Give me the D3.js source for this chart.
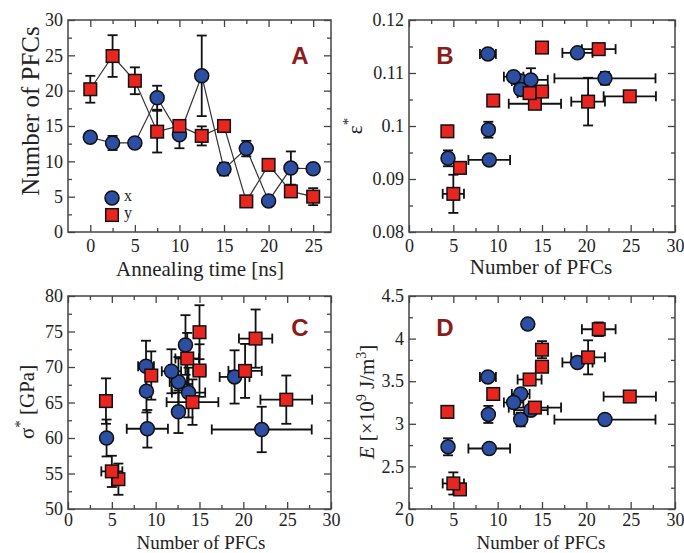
<!DOCTYPE html>
<html>
<head>
<meta charset="utf-8" />
<title>PFCs and mechanical properties</title>
<script src="https://d3js.org/d3.v7.min.js"></script>
<style>
  body { margin: 0; background: #fff; }
  svg { display: block; }
  .tick text { font-family: "Liberation Serif", "Times New Roman", serif; font-size: 18px; fill: #222; }
  .tick line { stroke: #444; stroke-width: 1.3; }
  .frame { fill: none; stroke: #444; stroke-width: 1.5; }
  .title { font-family: "Liberation Serif", "Times New Roman", serif; font-size: 21px; fill: #222; }
  .letter { font-family: "Liberation Sans", Arial, sans-serif; font-weight: bold; font-size: 24px; fill: #8c1b1b; }
  .legend { font-family: "Liberation Serif", serif; font-size: 16px; fill: #222; }
</style>
</head>
<body>
<svg id="chart" width="684" height="553"></svg>
<script>
// annealing times (panel A x axis)
var times = [0, 2.5, 5, 7.5, 10, 12.5, 15, 17.5, 20, 22.5, 25];

// number of PFCs, series x (blue) and y (red)
var pfcX    = [13.4, 12.6, 12.6, 19.0, 13.75, 22.1, 8.9, 11.8, 4.4, 9.05, 8.95];
var pfcXErr = [0.3, 1.0, 0.3, 1.7, 1.9, 5.7, 0.9, 1.1, 0.3, 2.35, 0.3];
var pfcY    = [20.2, 24.9, 21.4, 14.2, 15.0, 13.6, 15.0, 4.33, 9.5, 5.75, 5.0];
var pfcYErr = [1.9, 2.95, 1.9, 2.95, 0.7, 1.35, 0.5, 0.3, 0.4, 0.6, 1.2];

// critical strain (panel B)
var strainX    = [0.1068, 0.1085, 0.1069, 0.1138, 0.1087, 0.1090, 0.1136, 0.1093, 0.0939, 0.0936, 0.0993];
var strainXErr = [0.0008, 0.001, 0.0008, 0.0005, 0.0022, 0.0012, 0.0006, 0.0008, 0.0015, 0.0005, 0.0015];
var strainY    = [0.1046, 0.1056, 0.1145, 0.1042, 0.1065, 0.1062, 0.1148, 0.0990, 0.1048, 0.0921, 0.0872];
var strainYErr = [0.0045, 0.0005, 0.0006, 0.0005, 0.0006, 0.0006, 0.0008, 0.0006, 0.0005, 0.0005, 0.0036];

// critical stress [GPa] (panel C)
var stressX    = [73.1, 67.9, 63.7, 68.6, 66.4, 61.2, 70.1, 69.4, 60.0, 61.3, 66.6];
var stressXErr = [4.2, 3.5, 3.0, 3.75, 3.5, 3.2, 3.6, 3.1, 2.6, 2.65, 3.0];
var stressY    = [69.45, 65.4, 74.0, 65.05, 69.5, 71.2, 74.9, 65.2, 68.8, 54.2, 55.3];
var stressYErr = [3.8, 3.4, 4.1, 3.2, 3.7, 3.6, 3.8, 3.2, 3.4, 2.2, 2.2];

// energy [x10^9 J/m^3] (panel D)
var energyX    = [4.17, 3.35, 3.05, 3.72, 3.16, 3.05, 3.55, 3.25, 2.73, 2.71, 3.11];
var energyXErr = [0.03, 0.05, 0.08, 0.04, 0.05, 0.04, 0.05, 0.05, 0.1, 0.04, 0.1];
var energyY    = [3.78, 3.32, 4.11, 3.19, 3.67, 3.52, 3.87, 3.14, 3.35, 2.23, 2.30];
var energyYErr = [0.2, 0.04, 0.08, 0.04, 0.05, 0.04, 0.1, 0.05, 0.05, 0.04, 0.13];

var blue = "#2c4fa3", red = "#e8261f";
var svg = d3.select("#chart");

function steps(a, b, s) {
  return d3.range(0, Math.round((b - a) / s) + 1).map(function (i) { return +(a + i * s).toFixed(4); });
}

// frame, inward ticks on four sides
function panel(box, xDom, yDom, xMaj, xMin, yMaj, yMin, yFmt, xPad) {
  var w = box.right - box.left, h = box.bottom - box.top;
  var g = svg.append("g").attr("transform", "translate(" + box.left + "," + box.top + ")");
  var x = d3.scaleLinear().domain(xDom).range([0, w]);
  var y = d3.scaleLinear().domain(yDom).range([h, 0]);

  g.append("g").attr("transform", "translate(0," + h + ")")
    .call(d3.axisBottom(x).tickValues(xMaj).tickSize(-7).tickPadding(xPad).tickFormat(d3.format("~g")));
  g.append("g").attr("transform", "translate(0," + h + ")")
    .call(d3.axisBottom(x).tickValues(xMin).tickSize(-4).tickFormat(""));
  g.append("g").call(d3.axisTop(x).tickValues(xMaj).tickSize(-7).tickFormat(""));
  g.append("g").call(d3.axisTop(x).tickValues(xMin).tickSize(-4).tickFormat(""));
  g.append("g").call(d3.axisLeft(y).tickValues(yMaj).tickSize(-7).tickPadding(5).tickFormat(yFmt));
  g.append("g").call(d3.axisLeft(y).tickValues(yMin).tickSize(-4).tickFormat(""));
  g.append("g").attr("transform", "translate(" + w + ",0)")
    .call(d3.axisRight(y).tickValues(yMaj).tickSize(-7).tickFormat(""));
  g.append("g").attr("transform", "translate(" + w + ",0)")
    .call(d3.axisRight(y).tickValues(yMin).tickSize(-4).tickFormat(""));
  g.selectAll(".domain").remove();
  g.append("rect").attr("class", "frame").attr("width", w).attr("height", h);
  return { g: g, x: x, y: y };
}

function errBars(p, pts) {
  var eg = p.g.append("g").attr("stroke", "#111").attr("stroke-width", 1.8);
  pts.forEach(function (d) {
    var cx = p.x(d.x), cy = p.y(d.y);
    if (d.ey) {
      var y0 = p.y(d.y - d.ey), y1 = p.y(d.y + d.ey);
      eg.append("line").attr("x1", cx).attr("x2", cx).attr("y1", y0).attr("y2", y1);
      eg.append("line").attr("x1", cx - 5).attr("x2", cx + 5).attr("y1", y0).attr("y2", y0);
      eg.append("line").attr("x1", cx - 5).attr("x2", cx + 5).attr("y1", y1).attr("y2", y1);
    }
    if (d.ex) {
      var x0 = p.x(d.x - d.ex), x1 = p.x(d.x + d.ex);
      eg.append("line").attr("y1", cy).attr("y2", cy).attr("x1", x0).attr("x2", x1);
      eg.append("line").attr("y1", cy - 5).attr("y2", cy + 5).attr("x1", x0).attr("x2", x0);
      eg.append("line").attr("y1", cy - 5).attr("y2", cy + 5).attr("x1", x1).attr("x2", x1);
    }
  });
}

function circles(p, pts) {
  p.g.append("g").selectAll("circle").data(pts).join("circle")
    .attr("cx", function (d) { return p.x(d.x); })
    .attr("cy", function (d) { return p.y(d.y); })
    .attr("r", 7).attr("fill", blue).attr("stroke", "#111").attr("stroke-width", 1.5);
}

function squares(p, pts) {
  p.g.append("g").selectAll("rect").data(pts).join("rect")
    .attr("x", function (d) { return p.x(d.x) - 6.3; })
    .attr("y", function (d) { return p.y(d.y) - 6.3; })
    .attr("width", 12.6).attr("height", 12.6)
    .attr("fill", red).attr("stroke", "#111").attr("stroke-width", 1.5);
}

function pts(xs, exs, ys, eys) {
  return xs.map(function (v, i) { return { x: v, ex: exs ? exs[i] : 0, y: ys[i], ey: eys[i] }; });
}

function letter(p, txt, xv, yv) {
  p.g.append("text").attr("class", "letter").attr("x", xv).attr("y", yv)
    .attr("text-anchor", "middle").text(txt);
}

function ytitle(cx, cy) {
  return svg.append("text").attr("class", "title").attr("text-anchor", "middle")
    .attr("transform", "translate(" + cx + "," + cy + ") rotate(-90)");
}

var xMaj = steps(0, 30, 5), xMin = steps(2.5, 27.5, 5);

// ---------- A ----------
var pA = panel({ left: 68, right: 331, top: 20, bottom: 232 }, [-2.5, 27], [0, 30],
  steps(0, 25, 5), steps(2.5, 22.5, 5), steps(0, 30, 5), steps(2.5, 27.5, 5), d3.format("~g"), 7);
var aX = pts(times, null, pfcX, pfcXErr), aY = pts(times, null, pfcY, pfcYErr);
var line = d3.line().x(function (d) { return pA.x(d.x); }).y(function (d) { return pA.y(d.y); });
pA.g.append("path").datum(aX).attr("d", line).attr("fill", "none").attr("stroke", "#333").attr("stroke-width", 1.2);
pA.g.append("path").datum(aY).attr("d", line).attr("fill", "none").attr("stroke", "#333").attr("stroke-width", 1.2);
errBars(pA, aX); errBars(pA, aY);
circles(pA, aX); squares(pA, aY);
letter(pA, "A", 232, 44);
// legend
pA.g.append("circle").attr("cx", 44).attr("cy", 178).attr("r", 7).attr("fill", blue).attr("stroke", "#111").attr("stroke-width", 1.5);
pA.g.append("rect").attr("x", 37.7).attr("y", 188.7).attr("width", 12.6).attr("height", 12.6).attr("fill", red).attr("stroke", "#111").attr("stroke-width", 1.5);
pA.g.append("text").attr("class", "legend").attr("x", 56).attr("y", 181).text("x");
pA.g.append("text").attr("class", "legend").attr("x", 56).attr("y", 198).text("y");
svg.append("text").attr("class", "title").attr("x", 200).attr("y", 276).attr("text-anchor", "middle").text("Annealing time [ns]");
ytitle(39, 111).style("font-size", "25px").text("Number of PFCs");

// ---------- B ----------
var pB = panel({ left: 409, right: 675, top: 20, bottom: 232 }, [0, 30], [0.08, 0.12],
  xMaj, xMin, steps(0.08, 0.12, 0.01), steps(0.085, 0.115, 0.01), d3.format("~g"), 7);
var bX = pts(pfcX, pfcXErr, strainX, strainXErr), bY = pts(pfcY, pfcYErr, strainY, strainYErr);
errBars(pB, bX); errBars(pB, bY);
circles(pB, bX); squares(pB, bY);
letter(pB, "B", 36, 44);
svg.append("text").attr("class", "title").attr("x", 541).attr("y", 274).attr("text-anchor", "middle").text("Number of PFCs");
var tB = ytitle(362, 126);
tB.append("tspan").text("\u03b5");
tB.append("tspan").attr("dy", -9).style("font-size", "15px").text("*");

// ---------- C ----------
var pC = panel({ left: 68, right: 331, top: 296, bottom: 509 }, [0, 30], [50, 80],
  xMaj, xMin, steps(50, 80, 5), steps(52.5, 77.5, 5), d3.format("~g"), 4);
var cX = pts(pfcX, pfcXErr, stressX, stressXErr), cY = pts(pfcY, pfcYErr, stressY, stressYErr);
errBars(pC, cX); errBars(pC, cY);
circles(pC, cX); squares(pC, cY);
letter(pC, "C", 232, 40);
svg.append("text").attr("class", "title").style("font-size", "19px").attr("x", 201).attr("y", 549).attr("text-anchor", "middle").text("Number of PFCs");
var tC = ytitle(34, 402);
tC.append("tspan").text("\u03c3");
tC.append("tspan").attr("dy", -9).style("font-size", "15px").text("*");
tC.append("tspan").attr("dy", 9).text(" [GPa]");

// ---------- D ----------
var pD = panel({ left: 409, right: 675, top: 296, bottom: 509 }, [0, 30], [2, 4.5],
  xMaj, xMin, steps(2, 4.5, 0.5), steps(2.25, 4.25, 0.5), d3.format("~g"), 4);
var dX = pts(pfcX, pfcXErr, energyX, energyXErr), dY = pts(pfcY, pfcYErr, energyY, energyYErr);
errBars(pD, dX); errBars(pD, dY);
circles(pD, dX); squares(pD, dY);
letter(pD, "D", 36, 40);
svg.append("text").attr("class", "title").style("font-size", "19px").attr("x", 541).attr("y", 549).attr("text-anchor", "middle").text("Number of PFCs");
var tD = ytitle(374, 402);
tD.append("tspan").attr("font-style", "italic").text("E");
tD.append("tspan").text(" [\u00d710");
tD.append("tspan").attr("dy", -8).style("font-size", "14px").text("9");
tD.append("tspan").attr("dy", 8).text(" J/m");
tD.append("tspan").attr("dy", -8).style("font-size", "14px").text("3");
tD.append("tspan").attr("dy", 8).text("]");
</script>
</body>
</html>
